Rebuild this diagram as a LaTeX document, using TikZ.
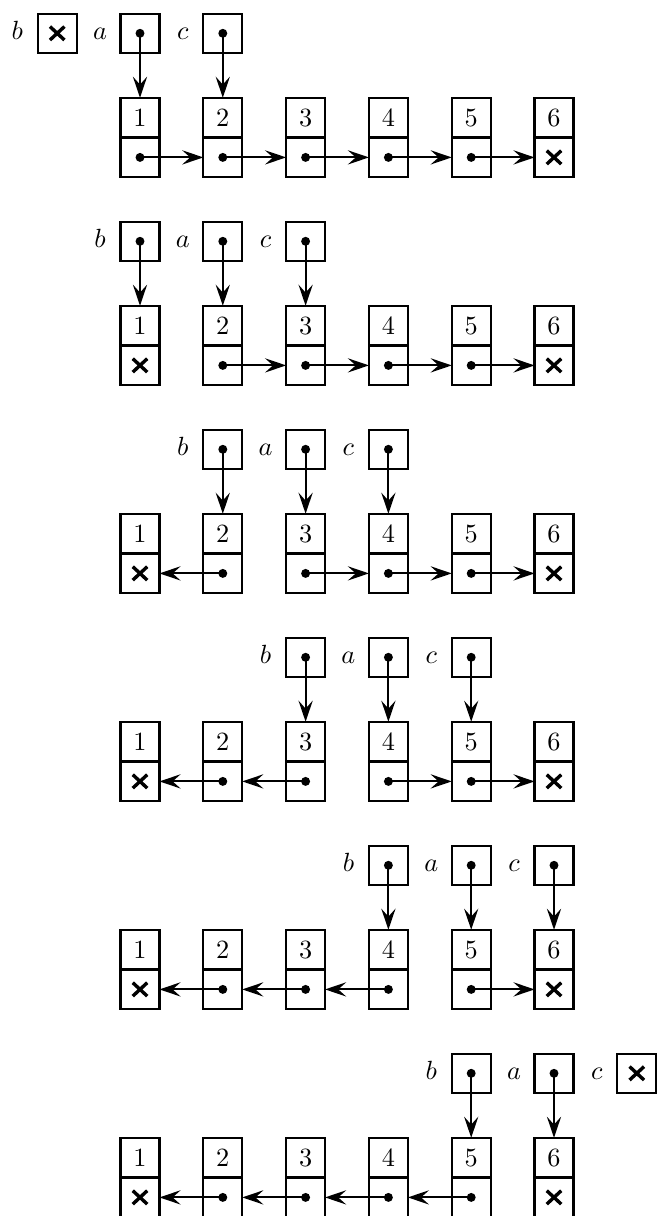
\documentclass[tikz,border=0pt]{standalone}
\usetikzlibrary{arrows.meta,shapes.misc}
\begin{document}
\begin{tikzpicture}[x=0.38pt,y=-0.38pt,
  cell/.style={draw, line width=0.8pt, minimum width=14.8pt, minimum height=15.1pt, inner sep=0pt, outer sep=0pt},
  ptr/.style={draw, line width=0.8pt, minimum width=14.8pt, minimum height=14.8pt, inner sep=0pt, outer sep=0pt},
  dot/.style={circle, fill, inner sep=0pt, minimum size=3.4pt},
  nil/.style={cross out, draw, line width=1.3pt, minimum width=4.2pt, minimum height=3.8pt, inner sep=0pt},
  link/.style={-{Stealth[length=8pt,width=5.4pt,inset=3pt]}, line width=0.75pt},
  lbl/.style={anchor=base, inner sep=0pt}]
\useasboundingbox (0,0) rectangle (657,1216);
\foreach \r in {0,...,5} {
  \pgfmathsetmacro\Y{208*\r}
  % list nodes
  \foreach \k in {1,...,6} {
    \pgfmathsetmacro\X{57.2+82.8*\k}
    \node[cell] (n\r-\k-t) at (\X,\Y+117.6) {\k};
    \node[cell] (n\r-\k-b) at (\X,\Y+157.4) {};
  }
  % links
  \foreach \k in {1,...,5} {
    \ifnum\k>\r\relax
      \node[dot] (d\r-\k) at (n\r-\k-b.center) {};
      \pgfmathtruncatemacro\nk{\k+1}
      \draw[link] (d\r-\k.center) -- (n\r-\nk-b.west);
    \else
      \ifnum\k=1\relax
        \node[nil] (x\r-\k) at (n\r-\k-b.center) {};
      \else
        \node[dot] (d\r-\k) at (n\r-\k-b.center) {};
        \pgfmathtruncatemacro\pk{\k-1}
        \draw[link] (d\r-\k.center) -- (n\r-\pk-b.east);
      \fi
    \fi
  }
  \node[nil] (x\r-6) at (n\r-6-b.center) {};
  % pointers
  \foreach \nm/\off in {b/0,a/1,c/2} {
    \pgfmathtruncatemacro\col{\r+\off}
    \pgfmathsetmacro\X{57.2+82.8*\col}
    \node[ptr] (p\r-\nm) at (\X,\Y+33.3) {};
    \node[lbl] (l\r-\nm) at (\X-40,\Y+39.8) {$\nm$};
    \ifnum\col=0\relax
      \node[nil] (q\r-\nm) at (p\r-\nm.center) {};
    \else
      \ifnum\col=7\relax
        \node[nil] (q\r-\nm) at (p\r-\nm.center) {};
      \else
        \node[dot] (q\r-\nm) at (p\r-\nm.center) {};
        \draw[link] (q\r-\nm.center) -- (n\r-\col-t.north);
      \fi
    \fi
  }
}
\end{tikzpicture}
\end{document}
